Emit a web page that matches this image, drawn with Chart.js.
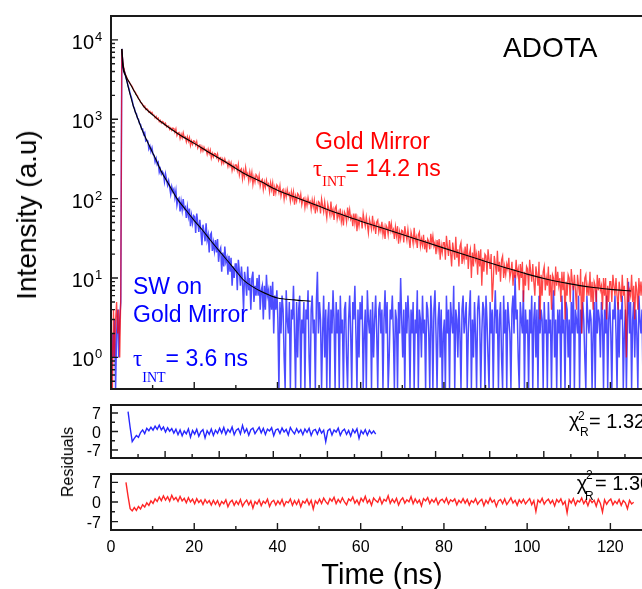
<!DOCTYPE html>
<html>
<head>
<meta charset="utf-8">
<title>ADOTA decay on gold mirror</title>
<script src="https://cdn.jsdelivr.net/npm/chart.js@4.4.1/dist/chart.umd.min.js"></script>
<style>
    html, body { margin: 0; padding: 0; background: #fff; }
    body {
        width: 642px; height: 589px; overflow: hidden; position: relative;
        font-family: "Liberation Sans", Arial, sans-serif; color: #000;
    }
    canvas { position: absolute; left: 0; }
    .txt { position: absolute; white-space: nowrap; line-height: 1; z-index: 2; }
    .red { color: #ff0000; }
    .blue { color: #0000ff; }
    .tau { font-family: "Liberation Serif", "DejaVu Serif", serif; }
    .int { font-family: "Liberation Serif", "DejaVu Serif", serif; font-size: 14px; position: relative; }
    .rot { transform: translate(-50%, -50%) rotate(-90deg); }
</style>
</head>
<body>
<canvas id="decayChart" width="680" height="400" style="top:0"></canvas>
<canvas id="swResidualChart" width="680" height="75" style="top:395px"></canvas>
<canvas id="goldResidualChart" width="680" height="123" style="top:466px"></canvas>

<div class="txt" style="left:503px; top:33.6px; font-size:28px;">ADOTA</div>

<div class="txt red" style="left:315px; top:129.5px; font-size:23px;">Gold Mirror</div>
<div class="txt red" style="left:313px; top:157.2px; font-size:23px;"><span class="tau">τ</span><span class="int" style="top:10px;">INT</span>= 14.2 ns</div>

<div class="txt blue" style="left:133px; top:275px; font-size:23px;">SW on</div>
<div class="txt blue" style="left:133px; top:303.2px; font-size:23px;">Gold Mirror</div>
<div class="txt blue" style="left:133px; top:347.2px; font-size:23px;"><span class="tau">τ</span><span class="int" style="top:16px;">INT</span>= 3.6 ns</div>

<div class="txt" style="left:569px; top:410px; font-size:20px;">χ</div>
<div class="txt" style="left:578px; top:409.8px; font-size:12px;">2</div>
<div class="txt" style="left:580px; top:425.5px; font-size:12px;">R</div>
<div class="txt" style="left:589px; top:411.4px; font-size:20px;">= 1.32</div>

<div class="txt" style="left:576.7px; top:473px; font-size:20px;">χ</div>
<div class="txt" style="left:586px; top:468.8px; font-size:12px;">2</div>
<div class="txt" style="left:585px; top:489.8px; font-size:12px;">R</div>
<div class="txt" style="left:595px; top:473.1px; font-size:20px;">= 1.30</div>

<div class="txt rot" style="left:27px; top:214.5px; font-size:28px;">Intensity (a.u)</div>
<div class="txt rot" style="left:67.8px; top:461.7px; font-size:16px;">Residuals</div>
<div class="txt" style="left:282px; width:200px; text-align:center; top:559.5px; font-size:29px;">Time (ns)</div>

<script>
// channel grid of the photon counting histogram (ns)
const channelWidth = 0.25;
const firstChannel = 0.1;
// the residuals are binned twice as coarse
const residualChannelWidth = 0.5;

// counts per channel, ADOTA on the gold mirror
const goldMirrorCounts = [
    2, 0, 4, 1, 3, 5, 2, 4, 1, 6,
    7680, 5180, 4330, 3800, 3570, 3310, 3080, 2970, 2810, 2700,
    2590, 2400, 2250, 2200, 2040, 1990, 1820, 1770, 1630, 1600,
    1540, 1440, 1470, 1330, 1360, 1320, 1230, 1260, 1190, 1220,
    1135, 1130, 1040, 1085, 1000, 1035, 935, 972, 895, 940,
    920, 855, 890, 800, 820, 825, 745, 780, 725, 772,
    763, 683, 756, 622, 671, 682, 571, 649, 582, 678,
    586, 599, 521, 602, 528, 589, 466, 534, 482, 533,
    527, 473, 525, 434, 467, 475, 398, 452, 400, 445,
    408, 417, 362, 419, 369, 410, 325, 372, 335, 371,
    367, 330, 366, 302, 325, 330, 277, 315, 281, 318,
    284, 291, 253, 292, 257, 285, 226, 262, 234, 266,
    266, 225, 271, 198, 229, 238, 177, 224, 188, 247,
    197, 209, 165, 216, 176, 214, 151, 188, 162, 201,
    192, 163, 196, 144, 167, 175, 130, 162, 139, 171,
    146, 154, 122, 159, 130, 158, 108, 139, 118, 149,
    142, 120, 146, 107, 125, 131, 98, 124, 105, 131,
    111, 117, 93, 122, 100, 122, 84, 108, 93, 116,
    111, 95, 114, 84, 98, 102, 77, 97, 82, 103,
    87, 92, 73, 96, 79, 96, 65, 85, 73, 92,
    89, 65, 99, 81, 68, 91, 71, 57, 85, 73,
    62, 92, 64, 73, 54, 76, 81, 56, 67, 58,
    75, 51, 64, 46, 68, 63, 51, 77, 59, 73,
    55, 60, 45, 65, 49, 65, 39, 55, 45, 58,
    57, 42, 65, 53, 45, 59, 47, 37, 55, 48,
    41, 61, 43, 49, 36, 51, 54, 38, 45, 39,
    51, 35, 43, 31, 46, 43, 35, 52, 40, 49,
    38, 41, 31, 44, 34, 45, 27, 38, 31, 40,
    39, 28, 45, 36, 30, 41, 31, 24, 38, 33,
    27, 43, 29, 33, 24, 35, 38, 25, 31, 26,
    35, 23, 30, 21, 31, 29, 23, 36, 27, 34,
    25, 28, 20, 30, 23, 31, 17, 26, 21, 28,
    28, 17, 34, 25, 19, 30, 21, 14, 28, 22,
    17, 33, 18, 23, 14, 25, 28, 15, 21, 17,
    25, 17, 27, 13, 20, 23, 10, 21, 14, 27,
    17, 20, 11, 22, 14, 23, 8, 18, 12, 20,
    19, 11, 23, 17, 13, 20, 5, 9, 19, 15,
    11, 22, 12, 16, 9, 17, 19, 10, 14, 11,
    15, 13, 18, 10, 12, 16, 8, 13, 10, 17,
    11, 13, 7, 15, 10, 16, 5, 12, 8, 14,
    13, 7, 17, 12, 9, 15, 9, 6, 14, 11,
    8, 16, 3, 11, 6, 12, 14, 7, 10, 8,
    14, 6, 11, 4, 11, 10, 6, 14, 8, 12,
    8, 10, 5, 12, 7, 12, 3, 9, 6, 11,
    10, 5, 13, 9, 7, 11, 7, 4, 11, 8,
    6, 13, 2, 9, 5, 10, 11, 6, 8, 6,
    12, 5, 9, 4, 9, 8, 5, 11, 7, 10,
    7, 8, 4, 10, 6, 10, 3, 8, 5, 9,
    9, 5, 11, 8, 6, 10, 6, 4, 9, 7,
    5, 11, 6, 8, 4, 1, 10, 5, 7, 6,
    11, 5, 8, 3, 9, 7, 4, 10, 6, 9,
    6, 8, 4, 9, 5, 10, 3, 8, 5, 9
];

// counts per channel, SW on the gold mirror
const swGoldCounts = [
    0, 2, 1, 3, 0, 2, 4, 1, 3, 5,
    7700, 4760, 4180, 3830, 3310, 3040, 2620, 2410, 2090, 1930,
    1720, 1470, 1390, 1220, 1180, 1040, 1000, 880, 860, 750,
    755, 643, 677, 534, 549, 531, 424, 460, 393, 435,
    360, 352, 291, 321, 269, 285, 215, 236, 204, 219,
    208, 164, 204, 173, 148, 168, 139, 114, 141, 123,
    132, 103, 126, 83, 98, 102, 69, 92, 72, 99,
    74, 78, 57, 78, 60, 75, 45, 61, 49, 61,
    59, 37, 65, 50, 38, 54, 39, 26, 47, 38,
    29, 49, 30, 35, 21, 35, 37, 22, 28, 22,
    30, 21, 31, 16, 22, 24, 12, 21, 14, 25,
    16, 18, 11, 19, 12, 18, 8, 14, 10, 15,
    15, 7, 17, 12, 8, 14, 9, 4, 12, 9,
    6, 14, 7, 10, 4, 10, 12, 5, 8, 6,
    10, 6, 11, 4, 7, 8, 3, 8, 4, 11,
    6, 7, 3, 8, 4, 9, 2, 6, 4, 7,
    3, 0, 5, 2, 6, 4, 1, 0, 7, 3,
    2, 5, 0, 4, 3, 8, 2, 0, 5, 1,
    4, 6, 0, 3, 2, 5, 0, 4, 3, 7,
    1, 0, 4, 6, 2, 3, 0, 5, 12, 2,
    5, 3, 0, 2, 6, 1, 4, 0, 3, 5,
    0, 4, 2, 7, 3, 0, 5, 2, 4, 0,
    6, 2, 3, 0, 4, 5, 1, 0, 3, 6,
    2, 0, 5, 3, 8, 2, 0, 4, 1, 5,
    3, 6, 0, 2, 4, 0, 7, 3, 2, 4,
    0, 5, 1, 3, 6, 2, 0, 4, 5, 2,
    4, 0, 3, 7, 2, 5, 0, 1, 4, 3,
    6, 2, 0, 4, 3, 0, 5, 2, 10, 3,
    1, 4, 0, 5, 2, 6, 3, 0, 4, 2,
    5, 0, 3, 2, 7, 0, 4, 3, 1, 6,
    2, 3, 0, 5, 4, 2, 0, 6, 3, 0,
    4, 7, 2, 0, 3, 5, 1, 4, 0, 2,
    3, 0, 6, 2, 4, 0, 5, 3, 2, 8,
    0, 4, 3, 1, 5, 2, 0, 4, 6, 2,
    3, 5, 0, 2, 4, 7, 0, 3, 1, 5,
    2, 0, 4, 6, 3, 0, 2, 5, 4, 0,
    6, 3, 1, 0, 5, 2, 4, 0, 3, 7,
    2, 4, 0, 3, 5, 1, 0, 6, 2, 4,
    0, 5, 3, 2, 0, 4, 6, 2, 11, 3,
    4, 1, 0, 5, 3, 2, 7, 0, 4, 2,
    3, 0, 4, 2, 6, 0, 3, 5, 1, 4,
    0, 6, 2, 4, 3, 0, 5, 2, 3, 0,
    5, 2, 3, 0, 4, 7, 1, 3, 0, 4,
    2, 4, 0, 6, 2, 3, 0, 5, 4, 1,
    3, 0, 5, 2, 8, 0, 4, 3, 2, 6,
    0, 4, 2, 5, 3, 1, 0, 6, 3, 2,
    4, 3, 0, 2, 5, 0, 7, 2, 4, 3,
    1, 5, 3, 0, 4, 2, 6, 0, 3, 5,
    2, 0, 4, 3, 6, 2, 0, 5, 1, 4,
    3, 6, 0, 2, 4, 0, 3, 9, 2, 5,
    0, 3, 5, 1, 4, 2, 0, 6, 3, 2,
    4, 0, 2, 5, 3, 0, 6, 2, 4, 3
];

// fitted decay curves
const goldMirrorFitTime = [2.6, 3.0, 3.5, 4.5, 6, 8, 10, 12, 16, 20, 24, 28, 32, 36, 40, 44, 48,
    52, 56, 60, 65, 70, 75, 80, 85, 90, 95, 100, 105, 110, 115, 120, 125];
const goldMirrorFit = [7700, 4500, 3600, 2870, 2060, 1420, 1140, 930, 663, 497, 370, 280, 208, 164, 128, 106, 88,
    73, 61.5, 52, 43, 35.4, 29, 23.8, 19.6, 16.2, 13.4, 11.2, 9.6, 8.5, 7.7, 7.2, 6.85];
const swGoldFitTime = [2.6, 2.8, 3.5, 4.5, 5.4, 6.5, 7.8, 9, 10, 11, 12, 14, 16, 18, 20, 22, 24,
    26, 28, 30, 32, 34, 36, 38, 40, 44, 48];
const swGoldFit = [7700, 4850, 3500, 2150, 1450, 1000, 670, 490, 380, 295, 225, 148, 98, 72, 53, 40, 29.5,
    22, 16.5, 12.3, 9.3, 7.8, 6.8, 6.1, 5.6, 5.3, 5.1];

// weighted residuals, each starting at the first bin of its fit window
const swGoldResidualStart = 8;
const swGoldResiduals = [
    7.5, 1.5, -3.8, -2.6, -1.5, -2.2, -0.4, 0.6, -0.8, 1.2, 0.3, 1.6, 0.5, 2.0, 0.8, 2.4, 0.6, 1.7, -0.2, 1.4, 0.1, 1.1, -0.6, 0.9,
    -1.2, 0.6, -1.6, 0.2, -0.9, 1.0, -2.1, 0.4, -1.0, 0.8, -1.8, -0.1, 0.7, -2.4, 0.3, -1.1, 0.9, -1.5, 0.5, -0.7,
    1.2, -0.6, 1.5, -1.0, 0.8, -0.3, 1.7, -1.2, 0.5, 1.1, -0.9, 2.3, -0.4, 1.0, -1.4, 0.7, 1.3, -0.8, 0.4, 1.6,
    -0.5, 1.2, -1.1, 0.9, 0.2, 1.4, -1.6, 0.6, 1.0, -0.7, 1.3, -0.2, 0.8, -1.3, 1.5, 0.1, -0.9, 1.1, -0.4, 0.7,
    -1.2, 0.9, -0.3, 1.2, -1.5, 0.4, 0.8, -1.0, 1.1, -0.6, 0.5, -3.8, 0.3, 1.0, -1.3, 0.6, -0.2, 1.3, -1.4, 0.2,
    0.9, -1.1, 0.4, -1.7, 0.8, -0.5, 1.0, -2.6, 0.3, -0.9, 0.7, -1.4, 0.5, -0.8, 0.2, -1.0
];
const goldMirrorResidualStart = 7;
const goldMirrorResiduals = [
    7.0, 2.0, -2.4, -3.2, -2.0, -3.0, -1.6, -2.5, -1.0, -1.8, -0.3, -1.2, 0.4, -0.5, 1.1, 0.2, 1.8, 0.5, 2.2, 0.7,
    1.9, 0.3, 2.4, 0.8, 1.6, 0.2, 2.0, 0.4, 1.3, -0.3, 1.5, 0.0, 1.0, -0.6, 1.2, -0.2, 0.7, -0.9, 0.9, -0.4,
    0.5, -1.1, 0.6,
    -0.8, 0.5, -1.4, 0.2, -0.6, 0.8, -1.7, -0.1, 0.6, -1.2,
    0.3, -0.9, 0.9, -1.5, -0.2, 0.7, -1.0, 0.4, -2.2, 0.1,
    -0.7, 0.8, -1.3, 0.3, -0.5, 1.0, -1.6, 0.0, 0.6, -1.1,
    0.4, -0.8, 0.9, -1.4, 0.2, -0.3, 1.1, -1.2, 0.5, -0.9,
    0.7, -1.7, 0.3, -0.4, 1.0, -1.0, 0.6, -2.5, 0.4, -0.6,
    1.0, -0.5, 1.4, 0.1, -0.8, 1.2, 0.3, 1.7, -0.6, 0.9,
    -0.2, 1.5, 0.0, -1.0, 1.1, 0.4, 1.8, -0.4, 0.7, -0.9,
    1.3, 0.2, 2.0, -0.3, 0.8, -1.2, 1.4, 0.5, -0.1, 1.6,
    -0.7, 0.9, 0.3, 2.2, -0.5, 1.0, -0.2, 1.3, -1.1, 0.6,
    1.5, -0.4, 0.8, 0.1, 1.9, -0.6, 1.1, -0.3, 0.7, -1.4,
    1.2, 0.4, 1.6, -0.5, 0.9, -0.1, 1.3, -0.9, 0.5, 1.0,
    -0.2, 1.4, -0.7, 0.8, 0.2, 1.1, -1.0, 0.6, -0.3, 1.2,
    -0.4, 0.9, -1.1, 0.5, -0.2, 1.2, -0.8, 0.3, 1.0, -1.3,
    0.6, -0.5, 1.4, -0.1, 0.7, -1.6, 0.4, 0.9, -0.6, 1.1,
    -0.9, 0.2, 1.5, -0.4, 0.6, -1.2, 0.8, -0.3, 1.0, -0.7,
    0.3, 1.2, -1.0, 0.5, -3.4, 0.7, -0.2, 1.3, -0.8, 0.4,
    1.0, -0.5, 0.6, -1.4, 0.9, -0.1, 1.1, -0.9, 0.2, -3.9,
    0.8, -0.4, 1.2, -1.1, 0.5, 0.0, 1.4, -0.6, 0.7, -1.3,
    0.9, -0.2, 0.6, -1.5, 1.0, -0.5, -3.6, 0.8, -0.8, 0.4,
    1.1, -1.0, 0.3, -0.6, 0.9, -1.2, 0.5, -0.3, -2.4, 0.6,
    -0.7, -0.1
];

// tick labels
const decadePowers = [0, 1, 2, 3, 4];
const timeLabels = [0, 20, 40, 60, 80, 100, 120];
const residualLabels = [-7, 0, 7];

const FONT = '"Liberation Sans", Arial, sans-serif';
const TIME_MAX = 130;

const channelPoints = (values, width, start = 0) =>
    values.map((v, i) => ({ x: firstChannel + (start + i) * width, y: v }));
const pairPoints = (xs, ys) => xs.map((x, i) => ({ x: x, y: ys[i] }));

const range = (from, to, step) => {
    const out = [];
    for (let v = from; v <= to + 1e-9; v += step) out.push(+v.toFixed(3));
    return out;
};

// minor ticks of the log axis: 2..9 x 10^n
const logMinor = [];
for (let p = -1; p <= 4; p++) {
    for (let m = 2; m <= 9; m++) {
        const v = m * Math.pow(10, p);
        if (v > 0.4 && v < 20000) logMinor.push(v);
    }
}

// boxed frame with inward ticks and hand placed tick labels
function frameAxes(cfg) {
    return {
        id: 'frameAxes',
        afterDraw(chart) {
            const { ctx, chartArea: a } = chart;
            const xs = chart.scales.x;
            const ys = chart.scales.y;
            ctx.save();
            ctx.strokeStyle = '#1a1a1a';
            ctx.lineWidth = 1.4;
            ctx.beginPath();
            const tickX = (vals, len) => vals.forEach(v => {
                const px = xs.getPixelForValue(v);
                ctx.moveTo(px, a.bottom);
                ctx.lineTo(px, a.bottom - len);
            });
            const tickY = (vals, len) => vals.forEach(v => {
                const py = ys.getPixelForValue(v);
                ctx.moveTo(a.left, py);
                ctx.lineTo(a.left + len, py);
            });
            tickX(cfg.xMajor, 7);
            tickX(cfg.xMinor, 4);
            tickY(cfg.yMajor, 7);
            tickY(cfg.yMinor, 4);
            ctx.stroke();

            ctx.lineWidth = 2;
            ctx.strokeRect(a.left, a.top, a.right - a.left, a.bottom - a.top);

            ctx.fillStyle = '#000';
            if (cfg.decades) {
                cfg.decades.forEach(p => {
                    const py = ys.getPixelForValue(Math.pow(10, p));
                    ctx.font = '20px ' + FONT;
                    ctx.textAlign = 'right';
                    ctx.fillText('10', 94, py + 9);
                    ctx.font = '13px ' + FONT;
                    ctx.textAlign = 'left';
                    ctx.fillText(String(p), 95, py + 1);
                });
            }
            if (cfg.yLabels) {
                ctx.font = '16px ' + FONT;
                ctx.textAlign = 'right';
                cfg.yLabels.forEach(v => {
                    ctx.fillText(String(v), 101, ys.getPixelForValue(v) + 6);
                });
            }
            if (cfg.xLabels) {
                ctx.font = '16px ' + FONT;
                ctx.textAlign = 'center';
                cfg.xLabels.forEach(v => {
                    ctx.fillText(String(v), xs.getPixelForValue(v), a.bottom + 22);
                });
            }
            ctx.restore();
        }
    };
}

const baseOptions = (padding, yScale) => ({
    responsive: false,
    animation: false,
    events: [],
    parsing: false,
    normalized: true,
    layout: { padding: padding },
    elements: { point: { radius: 0 }, line: { tension: 0 } },
    scales: {
        x: { type: 'linear', min: 0, max: TIME_MAX, display: false },
        y: Object.assign({ display: false }, yScale)
    },
    plugins: { legend: { display: false }, tooltip: { enabled: false } }
});

// decay curves with fits
new Chart(document.getElementById('decayChart'), {
    type: 'line',
    data: {
        datasets: [
            { data: pairPoints(goldMirrorFitTime, goldMirrorFit), borderColor: '#000', borderWidth: 1.1, cubicInterpolationMode: 'monotone' },
            { data: pairPoints(swGoldFitTime, swGoldFit), borderColor: '#000', borderWidth: 1.1, cubicInterpolationMode: 'monotone' },
            { data: channelPoints(goldMirrorCounts, channelWidth), borderColor: 'rgba(255, 0, 0, 0.72)', borderWidth: 1.3 },
            { data: channelPoints(swGoldCounts, channelWidth), borderColor: 'rgba(0, 0, 255, 0.7)', borderWidth: 1.5 }
        ]
    },
    options: baseOptions({ left: 111, right: 28, top: 16, bottom: 11 },
        { type: 'logarithmic', min: 0.4, max: 20000 }),
    plugins: [frameAxes({
        xMajor: range(20, 120, 20),
        xMinor: range(10, 130, 20),
        yMajor: decadePowers.map(p => Math.pow(10, p)),
        yMinor: logMinor,
        decades: decadePowers
    })]
});

// residuals of the SW fit
new Chart(document.getElementById('swResidualChart'), {
    type: 'line',
    data: {
        datasets: [
            { data: channelPoints(swGoldResiduals, residualChannelWidth, swGoldResidualStart), borderColor: 'rgba(0, 0, 255, 0.85)', borderWidth: 1.4 }
        ]
    },
    options: baseOptions({ left: 111, right: 28, top: 10, bottom: 12 },
        { type: 'linear', min: -10, max: 10 }),
    plugins: [frameAxes({
        xMajor: range(13, 130, 13),
        xMinor: range(6.5, 130, 13),
        yMajor: residualLabels,
        yMinor: [-3.5, 3.5],
        yLabels: residualLabels
    })]
});

// residuals of the gold mirror fit
new Chart(document.getElementById('goldResidualChart'), {
    type: 'line',
    data: {
        datasets: [
            { data: channelPoints(goldMirrorResiduals, residualChannelWidth, goldMirrorResidualStart), borderColor: 'rgba(255, 0, 0, 0.85)', borderWidth: 1.4 }
        ]
    },
    options: baseOptions({ left: 111, right: 28, top: 8, bottom: 59 },
        { type: 'linear', min: -10, max: 10 }),
    plugins: [frameAxes({
        xMajor: range(20, 120, 20),
        xMinor: range(10, 130, 20),
        yMajor: residualLabels,
        yMinor: [-3.5, 3.5],
        yLabels: residualLabels,
        xLabels: timeLabels
    })]
});
</script>
</body>
</html>
